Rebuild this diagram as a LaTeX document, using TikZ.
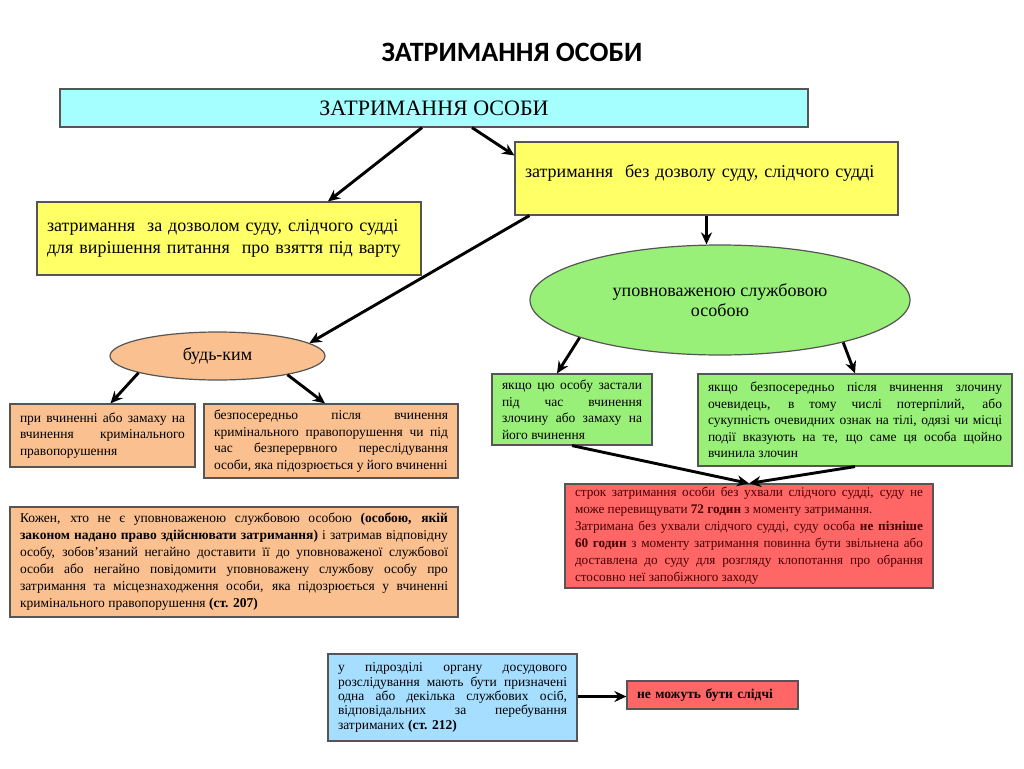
\documentclass[tikz,border=0pt]{standalone}
\usepackage{fontspec}
\setmainfont{Liberation Serif}
\newfontfamily\headfont{Carlito}
\usetikzlibrary{shapes.geometric,arrows.meta}
\definecolor{boxline}{RGB}{85,85,85}
\definecolor{cyanfill}{RGB}{166,255,255}
\definecolor{yellowfill}{RGB}{255,255,102}
\definecolor{greenfill}{RGB}{153,240,120}
\definecolor{orangefill}{RGB}{250,192,144}
\definecolor{redfill}{RGB}{255,102,102}
\definecolor{bluefill}{RGB}{166,222,255}
\definecolor{maroontext}{RGB}{70,0,0}
\tolerance=10000
\hbadness=10000
\begin{document}
\begin{tikzpicture}[x=1pt, y=-1pt, every node/.style={font=\fontsize{13.5}{16.5}\selectfont},
  box/.style={draw=boxline, line width=1.2pt, inner xsep=10pt, inner ysep=0pt, align=justify},
  oval/.style={ellipse, draw=boxline, line width=1.2pt, inner sep=0pt, align=center},
  arr/.style={-{Stealth[length=12pt,width=11pt]}, line width=2.9pt}]
\useasboundingbox (0,0) rectangle (1024,768);
% heading
\node[font=\headfont\bfseries\fontsize{28}{32}\selectfont] (title) at (512,52) {ЗАТРИМАННЯ ОСОБИ};
\node[box, fill=cyanfill, align=center, minimum width=748pt, minimum height=38pt, font=\fontsize{22}{26}\selectfont] (top) at (434,108) {ЗАТРИМАННЯ ОСОБИ};
% two kinds
\node[box, fill=yellowfill, align=left, text width=364pt, minimum height=73pt, font=\fontsize{18}{22}\selectfont] (yl) at (229,238.5) {затримання\ \ за дозволом суду, слідчого судді\\для вирішення питання\ \ про взяття під варту};
\node[box, fill=yellowfill, align=left, text width=363pt, text height=13pt, text depth=15pt, minimum height=73pt, font=\fontsize{18}{22}\selectfont] (yr) at (706.5,178.5) {затримання\ \ без дозволу суду, слідчого судді};
\node[oval, fill=greenfill, minimum width=380pt, minimum height=110pt, font=\fontsize{18}{20}\selectfont] (ge) at (720,300) {уповноваженою службовою\\особою};
\node[oval, fill=orangefill, minimum width=215pt, minimum height=48pt, font=\fontsize{18}{22}\selectfont] (oe) at (217.5,356) {будь-ким};
% anyone
\node[box, fill=orangefill, text width=165pt, minimum height=63pt] (ol) at (102.5,435.5) {при вчиненні або замаху на\linebreak вчинення кримінального\linebreak правопорушення};
\node[box, fill=orangefill, text width=234pt, minimum height=74pt] (or) at (331,441) {безпосередньо після вчинення\linebreak кримінального правопорушення чи під\linebreak час безперервного переслідування\linebreak особи, яка підозрюється у його вчиненні};
\node[box, fill=orangefill, text width=428pt, minimum height=110pt, font=\fontsize{13.5}{17}\selectfont] (ob) at (234,562) {Кожен, хто не є уповноваженою службовою особою \textbf{(особою, якій}\linebreak \textbf{законом надано право здійснювати затримання)} і затримав відповідну\linebreak особу, зобов'язаний негайно доставити її до уповноваженої службової\linebreak особи або негайно повідомити уповноважену службову особу про\linebreak затримання та місцезнаходження особи, яка підозрюється у вчиненні\linebreak кримінального правопорушення \textbf{(ст. 207)}};
% authorised person
\node[box, fill=greenfill, text width=140pt, minimum height=71pt] (gl) at (572,409.5) {якщо цю особу застали\linebreak під час вчинення\linebreak злочину або замаху на\linebreak його вчинення};
\node[box, fill=greenfill, text width=294pt, minimum height=92pt] (gr) at (855,420) {якщо безпосередньо після вчинення злочину\linebreak очевидець, в тому числі потерпілий, або\linebreak сукупність очевидних ознак на тілі, одязі чи місці\linebreak події вказують на те, що саме ця особа щойно\linebreak вчинила злочин};
\node[box, fill=redfill, text=maroontext, text width=348pt, minimum height=104pt, font=\fontsize{13.2}{17}\selectfont] (rd) at (749,536) {строк затримання особи без ухвали слідчого судді, суду не\linebreak може перевищувати \textbf{72 годин} з моменту затримання.\\Затримана без ухвали слідчого судді, суду особа \textbf{не пізніше}\linebreak \textbf{60 годин} з моменту затримання повинна бути звільнена або\linebreak доставлена до суду для розгляду клопотання про обрання\linebreak стосовно неї запобіжного заходу};
% art. 212
\node[box, fill=bluefill, text width=229pt, minimum height=87pt, font=\fontsize{13.5}{14.3}\selectfont] (bl) at (452.5,697.5) {у підрозділі органу досудового\linebreak розслідування мають бути призначені\linebreak одна або декілька службових осіб,\linebreak відповідальних за перебування\linebreak затриманих \textbf{(ст. 212)}};
\node[box, fill=redfill, align=left, text width=151pt, minimum height=28pt] (rs) at (712.5,695) {\textbf{не можуть бути слідчі}};
% arrows
\draw[arr] ([xshift=-12pt]top.south) -- ([xshift=99pt]yl.north);
\draw[arr] ([xshift=38pt]top.south) -- ([yshift=23pt]yr.west);
\draw[arr] (yr.south) -- (yr.south |- ge.north);
\draw[arr] ([xshift=15pt]yr.south west) -- (oe.8);
\draw[arr] (oe.192) -- ([xshift=8pt]ol.north);
\draw[arr] (oe.345) -- ([xshift=-6pt]or.north);
\draw[arr] (ge.195) -- ([xshift=-15pt]gl.north);
\draw[arr] (ge.341) -- (gr.north);
\draw[arr] (gl.south) -- (rd.north);
\draw[arr] (gr.south) -- (rd.north);
\draw[arr] ([yshift=1pt]bl.east) -- ([yshift=1pt]bl.east -| rs.west);
\end{tikzpicture}
\end{document}
